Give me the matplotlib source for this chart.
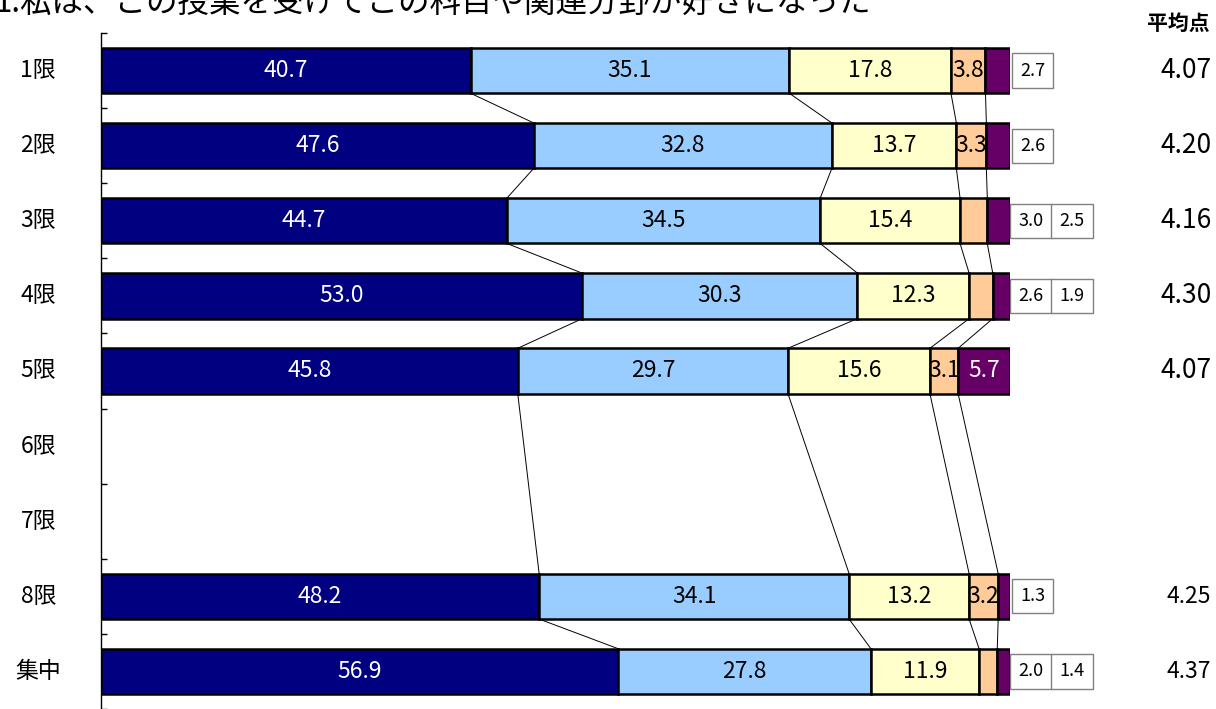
import numpy as np
import matplotlib
matplotlib.use("Agg")
import matplotlib.pyplot as plt

plt.rcParams['font.family'] = ['Noto Sans CJK JP', 'DejaVu Sans']

# データ
titulo = "1.私は、この授業を受けてこの科目や関連分野が好きになった"
categorias = ["1限", "2限", "3限", "4限", "5限", "6限", "7限", "8限", "集中"]
s1 = [40.7, 47.6, 44.7, 53.0, 45.8, None, None, 48.2, 56.9]
s2 = [35.1, 32.8, 34.5, 30.3, 29.7, None, None, 34.1, 27.8]
s3 = [17.8, 13.7, 15.4, 12.3, 15.6, None, None, 13.2, 11.9]
s4 = [3.8, 3.3, 3.0, 2.6, 3.1, None, None, 3.2, 2.0]
s5 = [2.7, 2.6, 2.5, 1.9, 5.7, None, None, 1.3, 1.4]
promedios = [4.07, 4.20, 4.16, 4.30, 4.07, None, None, 4.25, 4.37]

series = [s1, s2, s3, s4, s5]
colores = ["#000080", "#99CCFF", "#FFFFCC", "#FFCC99", "#660066"]
color_texto = ["white", "black", "black", "black", "white"]

fig = plt.figure(figsize=(12.16, 7.09), dpi=100)
ax = fig.add_axes([101 / 1216, 0, 909 / 1216, 676 / 709])

alto = 0.605
filas = [i for i in range(len(categorias)) if s1[i] is not None]

# normalizar a 100%
datos = {}
for i in filas:
    v = np.array([s[i] for s in series])
    datos[i] = v / v.sum() * 100

# barras
for i in filas:
    left = 0
    for k, val in enumerate(datos[i]):
        ax.barh(i, val, left=left, height=alto, color=colores[k],
                edgecolor="black", linewidth=1.8, zorder=3)
        left += val

# líneas de serie
for a, b in zip(filas[:-1], filas[1:]):
    ca = np.cumsum(datos[a])
    cb = np.cumsum(datos[b])
    for k in range(len(series)):
        ax.plot([ca[k], cb[k]], [a + alto / 2, b - alto / 2], color="black",
                linewidth=0.7, zorder=2)

# etiquetas
for i in filas:
    left = 0
    fuera = []
    for k, val in enumerate(datos[i]):
        orig = series[k][i]
        if orig > 3.05:
            ax.text(left + val / 2, i, f"{orig:.1f}", ha="center", va="center",
                    fontsize=16.5, color=color_texto[k], zorder=4)
        else:
            fuera.append(orig)
        left += val
    inicio = 0.3 if len(fuera) > 1 else 1.6
    for j, v in enumerate(fuera):
        ax.annotate(f"{v:.1f}", xy=(100, i), xytext=(inicio + 14.8 + j * 29.6, 0),
                    textcoords="offset points", ha="center", va="center",
                    fontsize=13, zorder=4,
                    bbox=dict(boxstyle="square,pad=0.45", facecolor="white",
                              edgecolor="#808080", linewidth=1))

# promedios
for i, p in enumerate(promedios):
    if p is None:
        continue
    ax.text(1.2215, i, f"{p:.2f}", transform=ax.get_yaxis_transform(),
            ha="right", va="center", fontsize=19 if i < 5 else 16.5)
fig.text(1178 / 1216, 1 - 23 / 709, "平均点", ha="center", va="center",
         fontsize=15, fontweight="bold")

# nombres de categoría
for i, c in enumerate(categorias):
    ax.text(-0.069, i, c, transform=ax.get_yaxis_transform(), ha="center",
            va="center", fontsize=16.5)

fig.text(-0.005, 1 - 12 / 709, titulo, ha="left", va="baseline", fontsize=22.7)

ax.set_xlim(0, 100)
ax.set_ylim(-0.5 + 676 / 76, -0.5)
ax.set_xticks([])
ax.set_yticks(np.arange(-0.5, len(categorias), 1))
ax.set_yticklabels([])
ax.tick_params(axis="y", direction="in", length=4.3, width=1)
for lado in ["top", "right", "bottom"]:
    ax.spines[lado].set_visible(False)
ax.spines["left"].set_linewidth(1)
ax.patch.set_alpha(0)

fig.savefig("out.png", dpi=100)
